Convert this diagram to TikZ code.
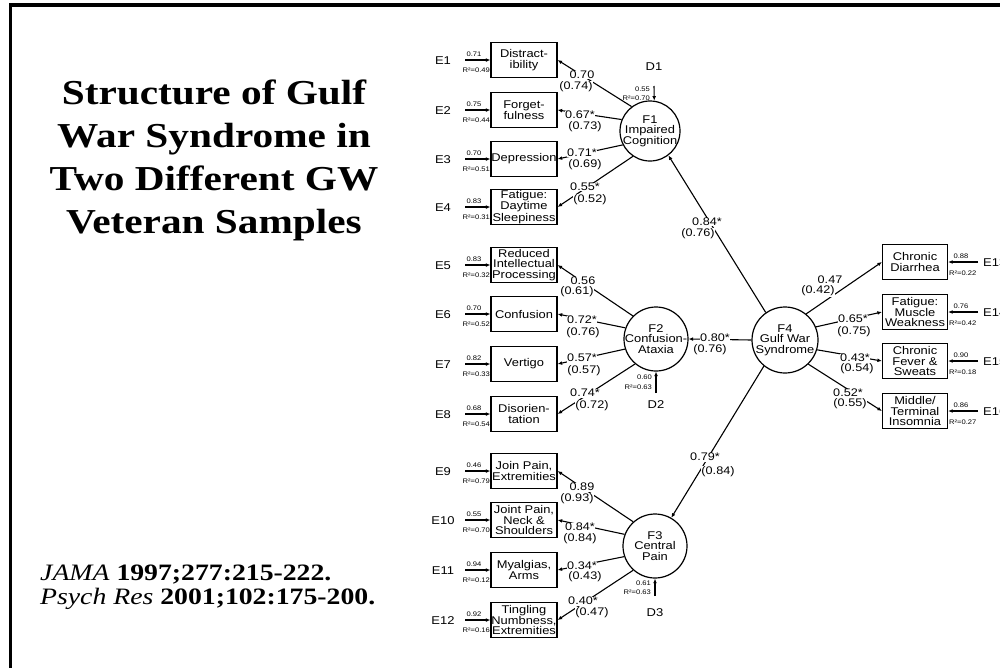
\documentclass[tikz,border=0pt]{standalone}
\usepackage{fontspec}
\usetikzlibrary{arrows.meta}
\newfontfamily\dfont[FakeStretch=1.15]{Liberation Sans}
\newfontfamily\tfont[FakeStretch=1.18]{Liberation Serif}
\begin{document}
\begin{tikzpicture}[x=1pt,y=-1pt,
  box/.style={draw, line width=1.2pt, minimum width=66pt, minimum height=35pt, inner sep=0pt, align=center, font=\dfont\fontsize{11.2}{10.4}\selectfont},
  fac/.style={draw, circle, line width=1.2pt, inner sep=-12pt, align=center, font=\dfont\fontsize{11.2}{10.6}\selectfont},
  lbl/.style={fill=white, inner sep=0.6pt, font=\dfont\fontsize{11}{11}\selectfont},
  tiny/.style={inner sep=0pt, font=\dfont\fontsize{6.6}{6.6}\selectfont},
  elab/.style={inner sep=0pt, font=\dfont\fontsize{11.3}{11}\selectfont},
  arr/.style={line width=1.1pt, -{Latex[length=4.5pt,width=3.8pt]}},
  ttl/.style={inner sep=0pt, anchor=base, font=\tfont\bfseries\fontsize{35}{43}\selectfont},
  refl/.style={inner sep=0pt, anchor=base west, font=\tfont\fontsize{23.5}{26}\selectfont},
]
\useasboundingbox (0,0) rectangle (1000,667);
\clip (0,0) rectangle (1000,667);
\fill[white] (0,0) rectangle (1000,667);
% frame
\draw[line width=3.5pt] (10.5,668) -- (10.5,5) -- (1001,5);
% title
\node[ttl] (t1) at (214,104) {Structure of Gulf};
\node[ttl] (t2) at (214,147) {War Syndrome in};
\node[ttl] (t3) at (214,190) {Two Different GW};
\node[ttl] (t4) at (214,233) {Veteran Samples};
\node[refl] (ref1) at (40,580) {\textit{JAMA} \textbf{1997;277:215-222.}};
\node[refl] (ref2) at (40,604) {\textit{Psych Res} \textbf{2001;102:175-200.}};
% left boxes
\node[box] (B1) at (524,60) {Distract-\\ibility};
\node[box] (B2) at (524,110) {Forget-\\fulness};
\node[box] (B3) at (524,159) {Depression};
\node[box] (B4) at (524,207) {Fatigue:\\Daytime\\Sleepiness};
\node[box] (B5) at (524,265) {Reduced\\Intellectual\\Processing};
\node[box] (B6) at (524,314) {Confusion};
\node[box] (B7) at (524,364) {Vertigo};
\node[box] (B8) at (524,414) {Disorien-\\tation};
\node[box] (B9) at (524,471) {Join Pain,\\Extremities};
\node[box] (B10) at (524,520) {Joint Pain,\\Neck \&\\Shoulders};
\node[box] (B11) at (524,570) {Myalgias,\\Arms};
\node[box] (B12) at (524,620) {Tingling\\Numbness,\\Extremities};
% right boxes
\node[box, minimum width=65pt] (B13) at (915,262) {Chronic\\Diarrhea};
\node[box, minimum width=65pt] (B14) at (915,312) {Fatigue:\\Muscle\\Weakness};
\node[box, minimum width=65pt] (B15) at (915,361) {Chronic\\Fever \&\\Sweats};
\node[box, minimum width=65pt] (B16) at (915,411) {Middle/\\Terminal\\Insomnia};
% factors
\node[fac, minimum size=60pt] (F1) at (650,131) {F1\\Impaired\\Cognition};
\node[fac, minimum size=64pt] (F2) at (656,339) {F2\\Confusion-\\Ataxia};
\node[fac, minimum size=64pt] (F3) at (655,546) {F3\\Central\\Pain};
\node[fac, minimum size=66pt] (F4) at (785,340) {F4\\Gulf War\\Syndrome};
% error terms left
\foreach \i/\yy/\a/\r in {1/60/0.71/0.49, 2/110/0.75/0.44, 3/159/0.70/0.51, 4/207/0.83/0.31,
  5/265/0.83/0.32, 6/314/0.70/0.52, 7/364/0.82/0.33, 8/414/0.68/0.54,
  9/471/0.46/0.79, 10/520/0.55/0.70, 11/570/0.94/0.12, 12/620/0.92/0.16} {
  \node[elab] (E\i) at (443,\yy+1) {E\i};
  \coordinate (s\i) at (465,\yy);
  \draw[arr] (s\i) -- (B\i.west);
  \node[tiny] (p\i) at (474,\yy-6) {\a};
  \node[tiny, anchor=east] (rr\i) at (490,\yy+10) {R²=\r};
}
% error terms right
\foreach \i/\yy/\a/\r in {13/262/0.88/0.22, 14/312/0.76/0.42, 15/361/0.90/0.18, 16/411/0.86/0.27} {
  \node[elab, anchor=west] (E\i) at (983,\yy+1) {E\i};
  \coordinate (s\i) at (978,\yy);
  \draw[arr] (s\i) -- (B\i.east);
  \node[tiny] (p\i) at (961,\yy-6) {\a};
  \node[tiny, anchor=west] (rr\i) at (949,\yy+11) {R²=\r};
}
% disturbances
\node[elab] (D1) at (654,67) {D1};
\coordinate (d1) at (654,86);
\draw[arr] (d1) -- (F1.82);
\node[tiny, anchor=east] (dp1) at (650,89) {0.55};
\node[tiny, anchor=east] (dr1) at (650,98) {R²=0.70};
\node[elab] (D2) at (656,405) {D2};
\coordinate (d2) at (656,393);
\draw[arr] (d2) -- (F2.south);
\node[tiny, anchor=east] (dp2) at (652,377) {0.60};
\node[tiny, anchor=east] (dr2) at (652,387) {R²=0.63};
\node[elab] (D3) at (655,613) {D3};
\coordinate (d3) at (655,596);
\draw[arr] (d3) -- (F3.south);
\node[tiny, anchor=east] (dp3) at (651,583) {0.61};
\node[tiny, anchor=east] (dr3) at (651,592) {R²=0.63};
% loadings
\draw[arr] (F1.127) -- (B1.east);
\draw[arr] (F1.158) -- (B2.east);
\draw[arr] (F1.207) -- (B3.east);
\draw[arr] (F1.236) -- (B4.east);
\draw[arr] (F2.135) -- (B5.east);
\draw[arr] (F2.160) -- (B6.east);
\draw[arr] (F2.198) -- (B7.east);
\draw[arr] (F2.230) -- (B8.east);
\draw[arr] (F3.132) -- (B9.east);
\draw[arr] (F3.159) -- (B10.east);
\draw[arr] (F3.199) -- (B11.east);
\draw[arr] (F3.228) -- (B12.east);
\draw[arr] (F4.51) -- (B13.west);
\draw[arr] (F4.23) -- (B14.west);
\draw[arr] (F4.-17) -- (B15.west);
\draw[arr] (F4.-46) -- (B16.west);
\draw[arr] (F4.125) -- (F1.-53);
\draw[arr] (F4.180) -- (F2.0);
\draw[arr] (F4.231) -- (F3.60);
% loading labels
\node[lbl] (l1a) at (582,75) {0.70};
\node[lbl] (l1b) at (576,87) {(0.74)};
\node[lbl] (l2a) at (580,115) {0.67*};
\node[lbl] (l2b) at (585,127) {(0.73)};
\node[lbl] (l3a) at (582,153) {0.71*};
\node[lbl] (l3b) at (585,165) {(0.69)};
\node[lbl] (l4a) at (585,187) {0.55*};
\node[lbl] (l4b) at (590,200) {(0.52)};
\node[lbl] (l5a) at (583,281) {0.56};
\node[lbl] (l5b) at (577,292) {(0.61)};
\node[lbl] (l6a) at (582,320) {0.72*};
\node[lbl] (l6b) at (583,333) {(0.76)};
\node[lbl] (l7a) at (582,358) {0.57*};
\node[lbl] (l7b) at (584,371) {(0.57)};
\node[lbl] (l8a) at (585,393) {0.74*};
\node[lbl] (l8b) at (592,406) {(0.72)};
\node[lbl] (l9a) at (582,487) {0.89};
\node[lbl] (l9b) at (577,499) {(0.93)};
\node[lbl] (l10a) at (580,527) {0.84*};
\node[lbl] (l10b) at (580,539) {(0.84)};
\node[lbl] (l11a) at (582,566) {0.34*};
\node[lbl] (l11b) at (585,577) {(0.43)};
\node[lbl] (l12a) at (583,601) {0.40*};
\node[lbl] (l12b) at (592,613) {(0.47)};
\node[lbl] (g1a) at (707,222) {0.84*};
\node[lbl] (g1b) at (698,234) {(0.76)};
\node[lbl] (g2a) at (715,338) {0.80*};
\node[lbl] (g2b) at (710,350) {(0.76)};
\node[lbl] (g3a) at (705,457) {0.79*};
\node[lbl] (g3b) at (718,472) {(0.84)};
\node[lbl] (l13a) at (830,280) {0.47};
\node[lbl] (l13b) at (818,291) {(0.42)};
\node[lbl] (l14a) at (853,319) {0.65*};
\node[lbl] (l14b) at (854,332) {(0.75)};
\node[lbl] (l15a) at (855,358) {0.43*};
\node[lbl] (l15b) at (857,369) {(0.54)};
\node[lbl] (l16a) at (848,393) {0.52*};
\node[lbl] (l16b) at (850,404) {(0.55)};
\end{tikzpicture}
\end{document}
